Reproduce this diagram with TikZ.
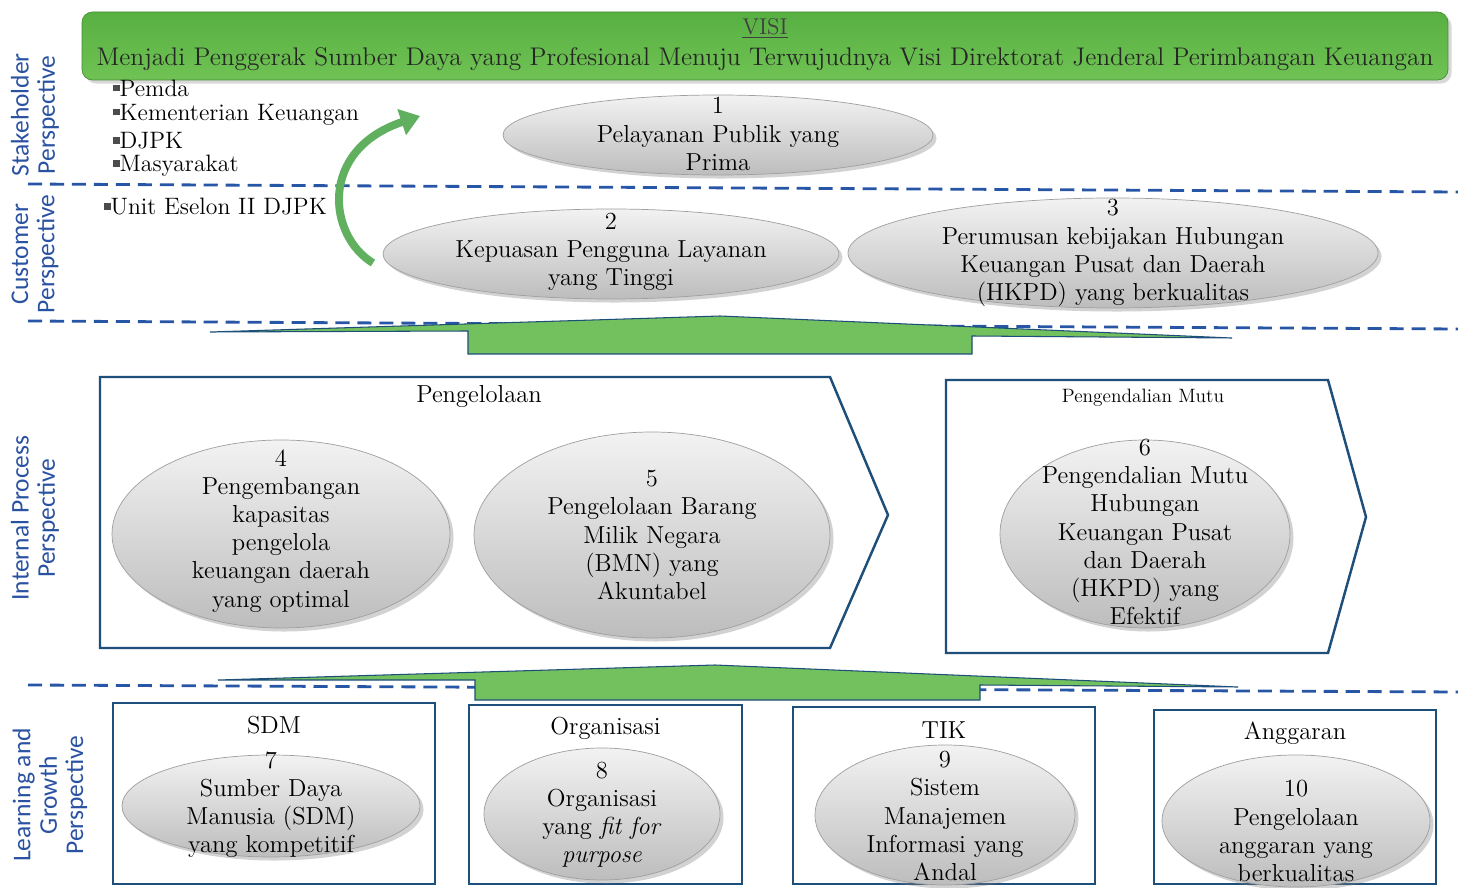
\documentclass[tikz,border=0pt]{standalone}
\usepackage{fontspec}
\newfontfamily\labelfont{Carlito}
\usepackage{xcolor}
\usepackage{tikz}
\usetikzlibrary{shadows}
\usetikzlibrary{positioning}
\usetikzlibrary{arrows.meta,shapes}
\usetikzlibrary{calc}
\definecolor{lineblue}{RGB}{40,86,166}
\definecolor{boxblue}{RGB}{30,78,122}
\definecolor{visigreen}{RGB}{112,194,84}
\definecolor{visidark}{RGB}{88,176,66}
\definecolor{arrowgreen}{RGB}{114,192,94}
\definecolor{curvegreen}{RGB}{96,176,96}
\definecolor{labelblue}{RGB}{42,82,162}
\newcommand{\sqbul}{\textcolor{black!70}{\rule[3pt]{3.6pt}{3.6pt}}}
\tikzstyle{goal}=[ellipse,draw=gray!75,top color=gray!10,bottom color=gray!52,drop shadow={opacity=0.35,shadow xshift=2pt,shadow yshift=-2pt},inner sep=0pt]
\tikzstyle{goaltext}=[align=center,inner sep=0pt,font=\fontsize{14}{16}\selectfont]
\tikzstyle{sepline}=[draw=lineblue,line width=1.6pt,dash pattern=on 8pt off 4.5pt]
\tikzstyle{chevron}=[draw=boxblue,line width=1.4pt]
\tikzstyle{boxline}=[draw=boxblue,line width=0.9pt]
\tikzstyle{uparrow}=[fill=arrowgreen,draw=boxblue,line width=0.6pt]
\tikzstyle{persp}=[labelblue,rotate=90,align=center,inner sep=0pt,font=\labelfont\fontsize{14.5}{15}\selectfont]
\tikzstyle{bullet}=[anchor=west,inner sep=0pt,font=\fontsize{13.5}{16}\selectfont]
\tikzstyle{title}=[inner sep=0pt,font=\fontsize{14}{16}\selectfont]

\begin{document}
\begin{tikzpicture}[x=0.02cm,y=-0.02cm]

 \clip (0,0) rectangle (1458,888);
 \fill[white] (0,0) rectangle (1458,888);

 %separators
 \draw[sepline] (28,184) -- (1458,192);
 \draw[sepline] (28,321) -- (1458,329);
 \draw[sepline] (28,685) -- (1458,692);

 %perspectives
 \node[persp] (stake) at (35,115) {Stakeholder\\Perspective};
 \node[persp] (cust) at (35,254) {Customer\\Perspective};
 \node[persp] (intp) at (35,518) {Internal Process\\Perspective};
 \node[persp] (learn) at (50,795) {Learning and\\Growth\\Perspective};

 %visi
 \shade[top color=visidark,bottom color=visigreen,draw=visidark!80!black,rounded corners=6pt,
   drop shadow={opacity=0.3,shadow xshift=2pt,shadow yshift=-2pt}] (82,12) rectangle (1448,80);
 \node[title,font=\fontsize{13}{15}\selectfont,text=black!75] (visi) at (765,28) {\underline{VISI}};
 \node[title,font=\fontsize{14.5}{16}\selectfont,text=black!85] (misi) at (765,59)
   {Menjadi Penggerak Sumber Daya yang Profesional Menuju Terwujudnya Visi Direktorat Jenderal Perimbangan Keuangan};

 %stakeholders
 \foreach \x/\y/\name/\label in {113/88/pemda/Pemda, 113/115/kemenkeu/Kementerian Keuangan,
   113/141/djpk/DJPK, 113/166/masy/Masyarakat, 104/207/eselon/Unit Eselon II DJPK}
   \node[bullet] (\name) at (\x,\y) {\sqbul\label};

 %chevrons
 \draw[chevron] (100,377) -- (830,377) -- (888,515) -- (830,648) -- (100,648) -- cycle;
 \draw[chevron] (946,380) -- (1328,380) -- (1366,517) -- (1328,653) -- (946,653) -- cycle;
 \node[title] (kelola) at (479,396) {Pengelolaan};
 \node[title,font=\fontsize{11}{13}\selectfont] (mutu) at (1143,398) {Pengendalian Mutu};

 %learning boxes
 \foreach \xa/\ya/\xb/\name/\label/\ty in {113/703/435/sdm/SDM/725, 469/705/742/org/Organisasi/728,
   793/707/1095/tik/TIK/730, 1154/710/1436/angg/Anggaran/733}
 {
   \draw[boxline] (\xa,\ya) rectangle (\xb,884);
   \node[title] (\name) at ({(\xa+\xb)/2},\ty) {\label};
 }

 %up arrows
 \draw[uparrow] (210,332) -- (720,316) -- (1232,338) -- (972,336) -- (972,354) -- (468,354) -- (468,331) -- cycle;
 \draw[uparrow] (218,680) -- (715,665) -- (1238,687) -- (980,685) -- (980,700) -- (475,700) -- (475,680) -- cycle;

 %objectives
 \foreach \x/\y/\rx/\ry/\ty/\name/\label in {
   718/135/215/40/134/g1/{1\\Pelayanan Publik yang\\Prima},
   611/254/228/45/252/g2/{2\\Kepuasan Pengguna Layanan\\yang Tinggi},
   1113/253/265/55/253/g3/{3\\Perumusan kebijakan Hubungan\\Keuangan Pusat dan Daerah\\(HKPD) yang berkualitas},
   281/534/169/94/531/g4/{4\\Pengembangan\\kapasitas\\pengelola\\keuangan daerah\\yang optimal},
   652/535/178/103/535/g5/{5\\Pengelolaan Barang\\Milik Negara\\(BMN) yang\\Akuntabel},
   1145/534/145/94/532/g6/{6\\Pengendalian Mutu\\Hubungan\\Keuangan Pusat\\dan Daerah\\(HKPD) yang\\Efektif},
   271/806/149/51/805/g7/{7\\Sumber Daya\\Manusia (SDM)\\yang kompetitif},
   602/814/118/66/815/g8/{8\\Organisasi\\yang \textit{fit for}\\\textit{purpose}},
   945/815/130/70/816/g9/{9\\Sistem\\Manajemen\\Informasi yang\\Andal},
   1296/821/134/66/831/g10/{10\\Pengelolaan\\anggaran yang\\berkualitas}}
 {
   \node[goal,minimum width=2*\rx*0.02cm,minimum height=2*\ry*0.02cm] (\name) at (\x,\y) {};
   \node[goaltext] (\name t) at (\x,\ty) {\label};
 }

 %curved arrow
 \coordinate (cTail) at (373,263);
 \coordinate (cHead) at (420,116);
 \draw[curvegreen,line width=4.5pt,-{Triangle[width=15pt,length=11pt]}]
   (cTail) .. controls (328,236) and (318,150) .. (cHead);

\end{tikzpicture}
\end{document}
